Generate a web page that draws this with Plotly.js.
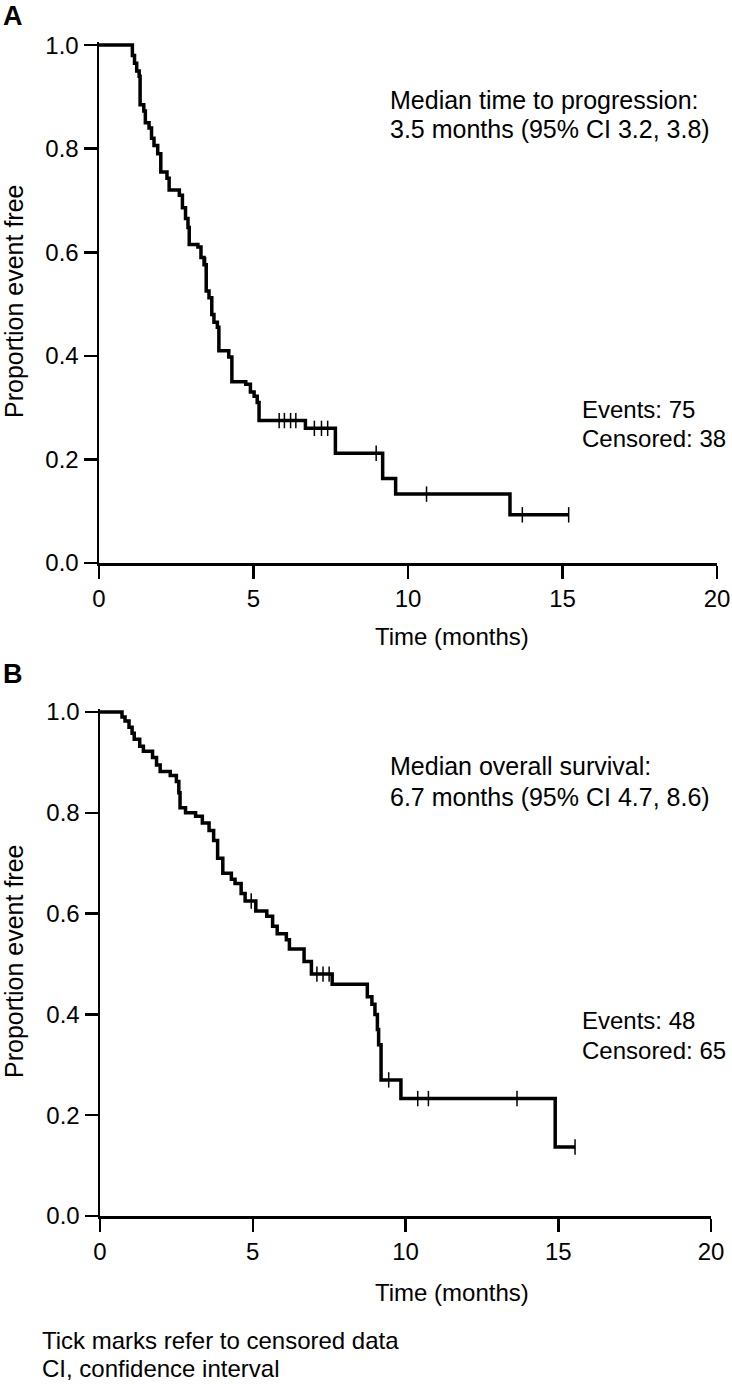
<!DOCTYPE html>
<html>
<head>
<meta charset="utf-8">
<script src="https://cdn.plot.ly/plotly-3.0.1.min.js"></script>
<style>html,body{margin:0;padding:0;background:#fff;}</style>
</head>
<body>
<div id="chart" style="width:732px;height:1384px;"></div>
<script>
// ---- Panel A: time to progression (Kaplan-Meier steps: time, survival after step) ----
const timesA = [0, 1.08, 1.15, 1.22, 1.3, 1.33, 1.45, 1.5, 1.62, 1.7, 1.78, 1.9, 2.0, 2.2, 2.27, 2.6, 2.7, 2.8, 2.88, 2.92, 3.2, 3.3, 3.4, 3.47, 3.56, 3.65, 3.72, 3.83, 3.88, 4.2, 4.3, 4.75, 4.9, 5.02, 5.12, 5.18, 6.68, 7.65, 9.18, 9.6, 13.3, 15.2];
const survA  = [1.0, 0.98, 0.965, 0.95, 0.94, 0.885, 0.873, 0.85, 0.84, 0.82, 0.806, 0.79, 0.755, 0.743, 0.72, 0.71, 0.686, 0.665, 0.648, 0.615, 0.61, 0.59, 0.576, 0.525, 0.512, 0.48, 0.465, 0.455, 0.41, 0.398, 0.35, 0.345, 0.33, 0.322, 0.31, 0.275, 0.26, 0.212, 0.163, 0.133, 0.093, 0.093];
const censTimesA = [3.45, 5.83, 6.0, 6.2, 6.37, 6.97, 7.2, 7.4, 8.97, 10.6, 13.7, 15.2];
const censSurvA  = [0.576, 0.275, 0.275, 0.275, 0.275, 0.26, 0.26, 0.26, 0.212, 0.133, 0.093, 0.093];

// ---- Panel B: overall survival ----
const timesB = [0, 0.72, 0.82, 0.95, 1.05, 1.12, 1.3, 1.42, 1.72, 1.85, 1.97, 2.3, 2.5, 2.58, 2.62, 2.8, 3.13, 3.35, 3.57, 3.72, 3.85, 4.02, 4.3, 4.42, 4.62, 4.75, 5.1, 5.46, 5.65, 5.8, 6.1, 6.2, 6.68, 6.92, 7.6, 8.75, 8.9, 9.0, 9.08, 9.12, 9.2, 9.85, 14.9, 15.55];
const survB  = [1.0, 0.99, 0.982, 0.97, 0.958, 0.946, 0.932, 0.922, 0.91, 0.895, 0.882, 0.874, 0.862, 0.84, 0.81, 0.8, 0.793, 0.78, 0.765, 0.745, 0.71, 0.68, 0.668, 0.66, 0.64, 0.625, 0.605, 0.595, 0.575, 0.56, 0.548, 0.53, 0.505, 0.48, 0.46, 0.435, 0.42, 0.4, 0.37, 0.34, 0.27, 0.233, 0.137, 0.137];
const censTimesB = [4.95, 7.1, 7.3, 7.5, 9.45, 10.4, 10.75, 13.65, 15.55];
const censSurvB  = [0.625, 0.48, 0.48, 0.48, 0.27, 0.233, 0.233, 0.233, 0.137];

const xTicks = [0, 5, 10, 15, 20];
const yTicks = [0, 0.2, 0.4, 0.6, 0.8, 1.0];
const xTitle = 'Time (months)';
const yTitle = 'Proportion event free';

const W = 732, H = 1384;
const px = x => x / W;
const py = y => 1 - y / H;
const FONT = 'Liberation Sans, Arial, Helvetica, sans-serif';
const FS = 24;

function kmTraces(t, s, ct, cs, xa, ya) {
  return [
    {x: t, y: s, mode: 'lines', line: {shape: 'hv', color: '#000', width: 3.5}, xaxis: xa, yaxis: ya, hoverinfo: 'skip'},
    {x: ct, y: cs, mode: 'markers', marker: {symbol: 'line-ns', size: 11, color: '#000', line: {width: 1.5, color: '#000'}}, xaxis: xa, yaxis: ya, hoverinfo: 'skip', cliponaxis: false}
  ];
}

const data = [
  ...kmTraces(timesA, survA, censTimesA, censSurvA, 'x', 'y'),
  ...kmTraces(timesB, survB, censTimesB, censSurvB, 'x2', 'y2')
];

function xAxis(l, r, anchor) {
  return {domain: [px(l), px(r)], range: [0, 20], anchor: anchor, tickvals: xTicks, ticks: 'outside', ticklen: 13, tickwidth: 2.5, tickcolor: '#000',
    showline: true, linewidth: 2.5, linecolor: '#000', showgrid: false, zeroline: false,
    tickfont: {family: FONT, size: FS, color: '#000'}, fixedrange: true};
}
function yAxis(top, bottom, anchor) {
  return {domain: [py(bottom), py(top - 3)], range: [0, 1.006], anchor: anchor, tickvals: yTicks, tickformat: '.1f', ticks: 'outside', ticklen: 13, tickwidth: 2.5, tickcolor: '#000',
    showline: true, linewidth: 2.5, linecolor: '#000', showgrid: false, zeroline: false,
    tickfont: {family: FONT, size: FS, color: '#000'}, fixedrange: true};
}

function txt(text, x, y, opts) {
  return Object.assign({text: text, x: px(x), y: py(y), xref: 'paper', yref: 'paper', showarrow: false,
    xanchor: 'left', yanchor: 'middle', font: {family: FONT, size: FS, color: '#000'}}, opts || {});
}
const F25 = {font: {family: FONT, size: 25, color: '#000'}};

const layout = {
  width: W, height: H,
  margin: {l: 0, r: 0, t: 0, b: 0},
  paper_bgcolor: '#fff', plot_bgcolor: '#fff',
  showlegend: false,
  xaxis: xAxis(99, 717, 'y'),
  yaxis: yAxis(45, 563, 'x'),
  xaxis2: xAxis(100, 711, 'y2'),
  yaxis2: yAxis(712, 1216, 'x2'),
  annotations: [
    txt('<b>A</b>', 1, 16, {font: {family: FONT, size: 27, color: '#000'}}),
    txt('<b>B</b>', 1, 674, {font: {family: FONT, size: 27, color: '#000'}}),
    txt(yTitle, 14, 302, Object.assign({textangle: -90, xanchor: 'center'}, F25)),
    txt(yTitle, 14, 962, Object.assign({textangle: -90, xanchor: 'center'}, F25)),
    txt(xTitle, 452, 636, {xanchor: 'center'}),
    txt(xTitle, 452, 1292, {xanchor: 'center'}),
    txt('Median time to progression:', 388, 100, F25),
    txt('3.5 months (95% CI 3.2, 3.8)', 388, 129, F25),
    txt('Events: 75', 580, 410),
    txt('Censored: 38', 580, 439),
    txt('Median overall survival:', 388, 766, F25),
    txt('6.7 months (95% CI 4.7, 8.6)', 388, 797, F25),
    txt('Events: 48', 580, 1020),
    txt('Censored: 65', 580, 1050),
    txt('Tick marks refer to censored data', 40, 1340),
    txt('CI, confidence interval', 40, 1368)
  ]
};

Plotly.newPlot('chart', data, layout, {displayModeBar: false, staticPlot: true});
</script>
</body>
</html>
